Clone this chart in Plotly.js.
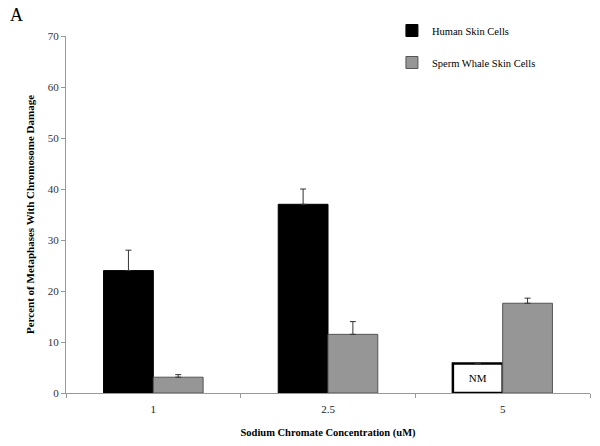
<!DOCTYPE html>
<html>
<head>
<meta charset="utf-8">
<script src="https://cdn.plot.ly/plotly-3.0.1.min.js"></script>
<style>html,body{margin:0;padding:0;background:#fff;}#chart{width:600px;height:446px;}</style>
</head>
<body>
<div id="chart"></div>
<script>
// Data
const categories = ['1', '2.5', '5'];
const humanValues = [24, 37, 5.8];      // third value: "NM" (not measured) placeholder box
const humanErrors = [4, 3, 0];
const humanLabels = ['', '', 'NM'];
const whaleValues = [3.1, 11.5, 17.6];
const whaleErrors = [0.5, 2.5, 1];
const yTicks = [0, 10, 20, 30, 40, 50, 60, 70];

const serif = 'Liberation Serif, Times New Roman, serif';

const human = {
  type: 'bar', name: 'Human Skin Cells', x: categories, y: humanValues,
  text: humanLabels, textposition: 'inside', insidetextanchor: 'middle',
  textfont: {family: serif, size: 11, color: '#000'},
  marker: {color: ['#000', '#000', '#fff'], line: {color: '#000', width: [1, 1, 2.5]}},
  error_y: {type: 'data', symmetric: false, array: humanErrors, arrayminus: [0, 0, 0],
            visible: true, color: '#333', thickness: 1, width: 3},
  legendgroup: 'a', hoverinfo: 'x+y'
};
const whale = {
  type: 'bar', name: 'Sperm Whale Skin Cells', x: categories, y: whaleValues,
  marker: {color: '#969696', line: {color: '#555', width: 1}},
  error_y: {type: 'data', symmetric: false, array: whaleErrors, arrayminus: [0, 0, 0],
            visible: true, color: '#333', thickness: 1, width: 3},
  legendgroup: 'b'
};

const layout = {
  width: 600, height: 446,
  margin: {l: 66, r: 10, t: 36, b: 53},
  paper_bgcolor: '#fff', plot_bgcolor: '#fff',
  barmode: 'group', bargap: 0.43, bargroupgap: 0,
  font: {family: serif, color: '#000'},
  showlegend: true,
  legend: {x: 0.622, xanchor: 'left', y: 1.056, yanchor: 'top', traceorder: 'grouped',
           tracegroupgap: 13, font: {family: serif, size: 10.5, color: '#000'},
           bgcolor: 'rgba(0,0,0,0)'},
  xaxis: {
    type: 'category', tickson: 'boundaries', ticks: 'outside', ticklen: 4,
    tickcolor: '#999', showline: true, linecolor: '#999', linewidth: 1,
    showgrid: false, zeroline: false, ticklabelstandoff: 6,
    tickfont: {family: serif, size: 11, color: '#222'},
    title: {text: '<b>Sodium Chromate Concentration (uM)</b>', font: {family: serif, size: 10.5, color: '#000'}, standoff: 14}
  },
  yaxis: {
    range: [0, 70], tickvals: yTicks, ticks: 'outside', ticklen: 4,
    tickcolor: '#999', showline: true, linecolor: '#999', linewidth: 1,
    showgrid: false, zeroline: false,
    tickfont: {family: serif, size: 11, color: '#333'},
    title: {text: '<b>Percent of Metaphases With Chromosome Damage</b>', font: {family: serif, size: 11, color: '#000'}, standoff: 10}
  },
  annotations: [{
    text: 'A', xref: 'paper', yref: 'paper', x: -0.11, y: 1.059, xanchor: 'left', yanchor: 'middle',
    showarrow: false, font: {family: serif, size: 18, color: '#000'}
  }]
};

Plotly.newPlot('chart', [human, whale], layout, {displayModeBar: false, staticPlot: true});
</script>
</body>
</html>
